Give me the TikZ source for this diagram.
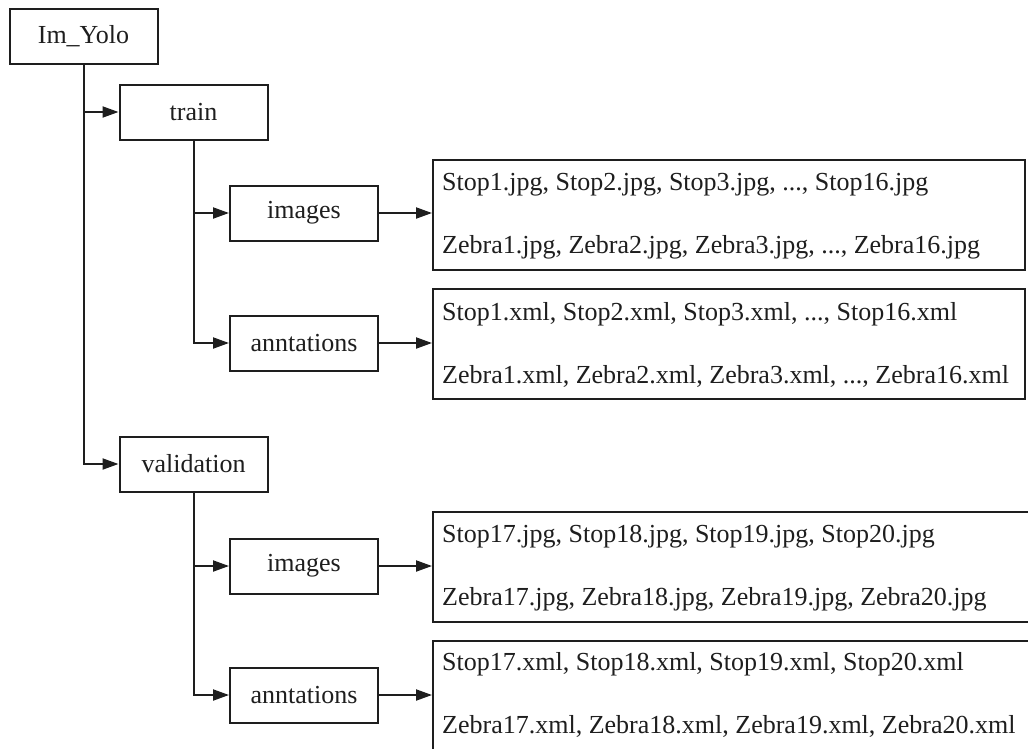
\documentclass[tikz,border=0pt]{standalone}
\usepackage{fontspec}
\setmainfont{Liberation Serif}
\usetikzlibrary{arrows.meta}
\definecolor{ink}{HTML}{1E1E1E}
\begin{document}
\begin{tikzpicture}[x=1pt,y=-1pt,
  lbl/.style={font=\fontsize{26}{30}\selectfont, text=ink},
  box/.style={draw=ink, line width=2pt, minimum width=148pt, minimum height=55pt, inner sep=0pt, lbl},
  listbox/.style={draw=ink, line width=2pt, inner sep=0pt, anchor=north west, minimum height=110pt},
  listtext/.style={anchor=base west, inner sep=0pt, lbl},
  conn/.style={draw=ink, line width=2pt, -{Triangle[length=16pt,width=11pt]}},
  trunk/.style={draw=ink, line width=2pt}]
\useasboundingbox[fill=white] (0,0) rectangle (1028,748);
\clip (0,0) rectangle (1028,748);

% tree nodes
\node[box] (yolo) at (83.5,36.5) {Im\_Yolo};
\node[box] (train) at (193.5,112) {train};
\node[box] (img1) at (304,213) {images};
\node[box] (ann1) at (304,343) {anntations};
\node[box] (val) at (193.5,464) {validation};
\node[box] (img2) at (304,566) {images};
\node[box] (ann2) at (304,695) {anntations};

% list boxes
\node[listbox, minimum width=592pt] (jpg1) at (432,159) {};
\node[listbox, minimum width=592pt] (xml1) at (432,288) {};
\node[listbox, minimum width=620pt] (jpg2) at (432,511) {};
\node[listbox, minimum width=620pt] (xml2) at (432,640) {};

% list texts
\node[listtext] (jpg1a) at (442,190) {Stop1.jpg, Stop2.jpg, Stop3.jpg, ..., Stop16.jpg};
\node[listtext] (jpg1b) at (442,253) {Zebra1.jpg, Zebra2.jpg, Zebra3.jpg, ..., Zebra16.jpg};
\node[listtext] (xml1a) at (442,320) {Stop1.xml, Stop2.xml, Stop3.xml, ..., Stop16.xml};
\node[listtext] (xml1b) at (442,383) {Zebra1.xml, Zebra2.xml, Zebra3.xml, ..., Zebra16.xml};
\node[listtext] (jpg2a) at (442,542) {Stop17.jpg, Stop18.jpg, Stop19.jpg, Stop20.jpg};
\node[listtext] (jpg2b) at (442,605) {Zebra17.jpg, Zebra18.jpg, Zebra19.jpg, Zebra20.jpg};
\node[listtext] (xml2a) at (442,670) {Stop17.xml, Stop18.xml, Stop19.xml, Stop20.xml};
\node[listtext] (xml2b) at (442,733) {Zebra17.xml, Zebra18.xml, Zebra19.xml, Zebra20.xml};

% connectors
\draw[conn] (yolo.south) |- (train.west);
\draw[conn] (yolo.south) |- (val.west);
\draw[conn] (train.south) |- (img1.west);
\draw[conn] (train.south) |- (ann1.west);
\draw[conn] (val.south) |- (img2.west);
\draw[conn] (val.south) |- (ann2.west);
\draw[conn] (img1.east) -- (img1.east -| jpg1.west);
\draw[conn] (ann1.east) -- (ann1.east -| xml1.west);
\draw[conn] (img2.east) -- (img2.east -| jpg2.west);
\draw[conn] (ann2.east) -- (ann2.east -| xml2.west);
\end{tikzpicture}
\end{document}
